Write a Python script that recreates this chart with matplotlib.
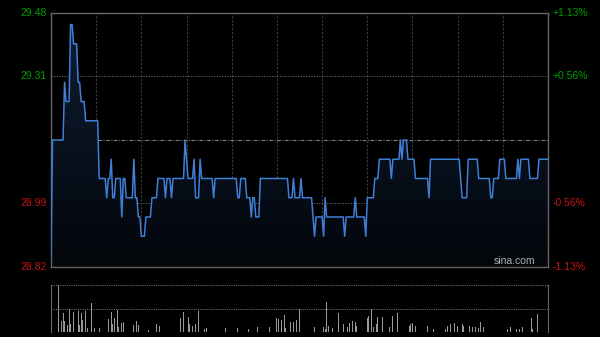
import numpy as np
import matplotlib
matplotlib.use("Agg")
import matplotlib.pyplot as plt

# price runs: (price, number of minutes)
precio_runs = [
    (28.85, 1), (29.15, 8), (29.30, 1), (29.25, 3), (29.45, 2), (29.40, 3),
    (29.30, 2), (29.25, 3), (29.20, 9), (29.05, 5), (29.00, 1), (29.05, 2),
    (29.10, 1), (29.00, 2), (29.05, 4), (28.95, 1), (29.05, 2), (29.00, 5),
    (29.10, 1), (29.00, 2), (28.95, 2), (28.90, 3), (28.95, 4), (29.00, 4),
    (29.05, 5), (29.00, 1), (29.05, 3), (29.00, 1), (29.05, 8), (29.15, 1),
    (29.10, 1), (29.05, 4), (29.10, 1), (29.00, 3), (29.10, 1), (29.05, 8),
    (29.00, 1), (29.05, 15), (29.00, 2), (29.05, 4), (29.00, 3), (28.95, 1),
    (29.00, 2), (28.95, 3), (29.05, 19), (29.00, 3), (29.05, 1), (29.00, 4),
    (29.05, 1), (29.00, 7), (28.95, 1), (28.90, 1), (28.95, 5), (28.90, 1),
    (29.00, 1), (28.95, 12), (28.90, 1), (28.95, 6), (29.00, 1), (28.95, 6),
    (28.90, 1), (29.00, 5), (29.05, 3), (29.10, 8), (29.05, 1), (29.10, 5),
    (29.15, 1), (29.10, 1), (29.15, 3), (29.10, 5), (29.05, 9), (29.00, 1),
    (29.10, 20), (29.05, 1), (29.00, 4), (29.10, 7), (29.05, 8), (29.00, 2),
    (29.05, 4), (29.10, 4), (29.05, 8), (29.10, 1), (29.05, 1), (29.10, 6),
    (29.05, 6), (29.10, 7),
]
precio = np.concatenate([[p] * n for p, n in precio_runs])
minutos = np.arange(len(precio))

cierre_prev = 29.15
etiquetas_izq = ["29.48", "29.31", "28.99", "28.82"]
etiquetas_der = ["+1.13%", "+0.56%", "-0.56%", "-1.13%"]
niveles = [29.48, 29.315, 28.985, 28.82]

# volume (minute, relative height)
vol_min = [5, 7, 8, 9, 11, 12, 13, 15, 18, 19, 20, 21, 23, 24, 27, 29, 32, 38, 40,
           41, 42, 44, 45, 47, 48, 55, 57, 58, 65, 70, 72, 85, 86, 88, 89, 91, 92,
           94, 96, 98, 102, 103, 116, 124, 131, 137, 145, 150, 151, 153, 155, 156,
           158, 159, 161, 162, 163, 165, 175, 181, 182, 183, 184, 187, 191, 194,
           197, 198, 200, 202, 203, 210, 211, 213, 214, 216, 217, 220, 225, 227,
           230, 238, 239, 240, 242, 250, 254, 262, 263, 265, 268, 270, 273, 274,
           278, 280, 282, 284, 285, 287, 303, 305, 309, 311, 313, 319, 320, 323]
vol_val = [1.0, 0.24, 0.41, 0.24, 0.15, 0.48, 0.18, 0.43, 0.45, 0.15, 0.40, 0.26,
           0.45, 0.08, 0.61, 0.08, 0.08, 0.27, 0.43, 0.18, 0.29, 0.47, 0.10, 0.20,
           0.21, 0.15, 0.23, 0.15, 0.04, 0.17, 0.13, 0.08, 0.29, 0.43, 0.35, 0.31,
           0.18, 0.13, 0.18, 0.45, 0.06, 0.08, 0.08, 0.08, 0.06, 0.10, 0.11, 0.29,
           0.27, 0.26, 0.36, 0.08, 0.34, 0.22, 0.22, 0.27, 0.26, 0.48, 0.10, 0.10,
           0.06, 0.63, 0.13, 0.08, 0.41, 0.18, 0.10, 0.20, 0.24, 0.22, 0.13, 0.29,
           0.34, 0.48, 0.10, 0.18, 0.31, 0.31, 0.11, 0.34, 0.41, 0.13, 0.17, 0.20,
           0.13, 0.13, 0.06, 0.06, 0.13, 0.18, 0.20, 0.13, 0.18, 0.13, 0.13, 0.10,
           0.11, 0.08, 0.22, 0.10, 0.06, 0.11, 0.06, 0.06, 0.10, 0.29, 0.06, 0.38]

fig = plt.figure(figsize=(6, 3.37), dpi=100, facecolor="black")
ax = fig.add_axes([51/600, 1-267/337, 497/600, 254/337], facecolor="black")
axv = fig.add_axes([51/600, 1-332/337, 497/600, 47/337], facecolor="black")

x_max = 330
ax.set_xlim(0, x_max)
ax.set_ylim(28.82, 29.48)

# grid
for k in range(1, 11):
    ax.axvline(k * 30, color="#3a3a3a", lw=0.8, ls=(0, (2, 1.5)), zorder=1)
for nv in [29.315, 28.985]:
    ax.axhline(nv, color="#6a6a6a", lw=0.7, ls=(0, (1.2, 1.5)), zorder=1)
ax.axhline(cierre_prev, color="#8a8a8a", lw=0.7, ls=(0, (4, 1.5, 1, 1.5)), zorder=1)

# gradient fill under line
poly = ax.fill_between(minutos, precio, 28.82, color="none", lw=0)
grad = np.linspace(0, 1, 256).reshape(-1, 1)
from matplotlib.colors import LinearSegmentedColormap
cmap = LinearSegmentedColormap.from_list("g", ["#03060b", "#0f1d33"])
img = ax.imshow(grad, cmap=cmap, aspect="auto", origin="lower",
                extent=[0, x_max, 28.82, 29.46], zorder=2)
img.set_clip_path(poly.get_paths()[0], transform=ax.transData)

ax.plot(minutos, precio, color="#3f7fd6", lw=1.1, zorder=3)

for s in ax.spines.values():
    s.set_color("#666666")
    s.set_linewidth(1)
ax.set_xticks([])
ax.set_yticks([])

colores = ["#00a000", "#00a000", "#c81414", "#c81414"]
for nv, ti, td, c in zip(niveles, etiquetas_izq, etiquetas_der, colores):
    ax.text(-0.008, nv, ti, transform=ax.get_yaxis_transform(), ha="right",
            va="center", color=c, fontsize=7.5, family="Liberation Sans")
    ax.text(1.01, nv, td, transform=ax.get_yaxis_transform(), ha="left",
            va="center", color=c, fontsize=7.5, family="Liberation Sans")

ax.text(0.975, 0.005, "sina.com", transform=ax.transAxes, ha="right", va="bottom",
        color="#b0b0b0", fontsize=7.5, family="Liberation Sans")

# volume panel
axv.set_xlim(0, x_max)
axv.set_ylim(0, 1.0)
axv.bar(vol_min, vol_val, width=0.6, color="#9a9a9a", lw=0, zorder=2)
for nv in [0.0, 0.5, 1.0]:
    axv.axhline(nv, color="#6a6a6a", lw=0.8, ls=(0, (1, 1)), zorder=1)
for lado in ["top", "bottom"]:
    axv.spines[lado].set_visible(False)
for lado in ["left", "right"]:
    axv.spines[lado].set_color("#666666")
axv.set_xticks([])
axv.set_yticks([])

plt.savefig("out.png", dpi=100, facecolor="black")
